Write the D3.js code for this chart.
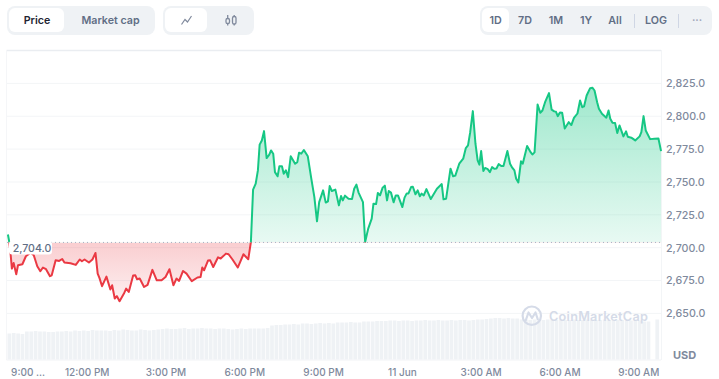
<!DOCTYPE html>
<html><head><meta charset="utf-8">
<style>
html,body{margin:0;padding:0;background:#fff;overflow:hidden}
svg{display:block;font-family:Inter,"Noto Sans",sans-serif}
</style>
<script src="https://cdn.jsdelivr.net/npm/d3@7/dist/d3.min.js"></script>
</head><body><svg id="c" width="719" height="379"></svg>
<script>
const minutes=[1,4,7,10,14,20,24,34,42,53,60,68,75,81,88,97,101,110,118,125,130,144,156,165,170,176,186,194,201,206,210,216,226,235,239,245,250,256,266,271,277,287,292,296,302,312,320,331,341,352,361,370,379,386,392,401,409,421,434,441,445,449,458,463,470,481,487,499,505,514,526,539,550,556,561,567,572,576,581,586,592,598,602,607,611,617,621,627,631,636,641,647,657,662,666,671,677,686,694,701,707,712,721,727,732,736,741,749,757,762,766,771,779,787,792,797,802,812,817,824,832,836,842,846,851,857,862,867,871,876,882,887,892,902,907,912,916,922,926,932,937,942,946,951,957,967,981,992,996,1002,1012,1018,1023,1032,1041,1047,1052,1057,1063,1069,1074,1078,1082,1087,1091,1097,1102,1107,1112,1117,1122,1128,1133,1142,1148,1153,1158,1162,1167,1173,1177,1187,1195,1199,1204,1211,1217,1222,1228,1237,1243,1249,1253,1257,1262,1267,1273,1282,1288,1294,1302,1308,1313,1317,1323,1331,1336,1341,1347,1351,1358,1368,1373,1377,1382,1388,1393,1398,1407,1413,1417,1425,1434,1444,1448,1453,1458,1468,1478,1487,1493];
const prices=[2710,2704.3,2695.5,2684.1,2688.4,2679.8,2686.6,2687.4,2693.5,2696.3,2694.2,2685.9,2682.1,2684.9,2683.6,2678.3,2679,2690.4,2689.9,2691.4,2688.7,2688.1,2686.9,2691,2689.7,2691,2688.7,2691,2696,2680.3,2677,2670.7,2678,2668.2,2671.4,2661.3,2663.1,2659.3,2665.1,2668.9,2666.3,2678.8,2679,2676,2676.5,2670.1,2671.7,2683.1,2675.2,2675.2,2677.7,2683.6,2671.4,2676.5,2674.7,2682.3,2680.3,2674.5,2677.3,2677.7,2684.9,2682.8,2690.2,2690.4,2685.3,2692.7,2691.7,2695.5,2695,2691,2684.9,2695,2691.2,2704.3,2744.2,2748.7,2758.8,2778.4,2781.6,2788.7,2768.2,2770.8,2774,2771.5,2757.5,2754.3,2761.9,2761.9,2756.3,2758.8,2753.7,2769.5,2763.9,2765.1,2772.3,2771.5,2774.3,2769.5,2752.5,2738.5,2720.1,2734.7,2743.6,2734.3,2735.3,2746.9,2743.1,2744.2,2732.2,2739.3,2736,2739.6,2737.3,2737,2744.9,2748,2741.9,2734.7,2704.3,2714.5,2722.1,2733.5,2733.2,2741.6,2739.8,2745.7,2747.2,2736,2743.1,2741.9,2734.5,2739.8,2739.8,2730.9,2738.1,2741.3,2741.3,2746.1,2746.4,2740.6,2743.6,2739.1,2741.1,2739.8,2744.6,2737,2744.9,2748.4,2736.8,2737.3,2760.1,2754.3,2754.8,2763.9,2767.7,2775.8,2777.8,2787.9,2803.9,2779.1,2766.4,2763.2,2773.5,2758.4,2760.7,2759.8,2757.5,2761.3,2760.1,2760.3,2763.6,2762.1,2762.1,2773.5,2763.9,2760.9,2758.8,2752.5,2749.7,2765.7,2763.9,2777.3,2772.7,2770.9,2772.5,2809,2802.7,2804.4,2810.7,2817.6,2805,2803.7,2803.4,2800.1,2802.9,2802.7,2790.7,2795.5,2793.3,2798.7,2802.1,2812,2806.9,2807.5,2815.8,2821.4,2821.7,2819.6,2810.7,2805.7,2801.9,2798.9,2804.4,2798.1,2795.1,2794.8,2787.2,2793,2784.7,2788.5,2784.4,2783.7,2781.6,2784.7,2787.9,2800.1,2789.2,2782.6,2782.9,2783.1,2773.5];
const volumes=[26,26.5,26,25.5,28,28,28.5,28,28,27.5,27.5,28,28,28.5,28,29,28.5,29,28.5,29.5,29,29,29,28.5,29.5,29,30,29.5,29,29,30,29.5,29,29.5,30,30.5,31,30.5,30.5,31,31.5,30.5,31,31,31.5,31,31,30.5,31,31,30.5,30,30.5,31,30.5,31,31,31,31,31.5,34,34.5,34.5,35,35,35.5,35,36,36,35.5,36,36.5,36,36.5,36,37,37,37,37.5,37,37,38,38,38,38.5,38.5,38.5,39,39,38.5,39,39,38.5,39,39,39.5,39,39,39.5,39,39,39.5,39,39.5,39.5,39,39.5,40,40,40.5,41,41.5,41.5,41,41.5,41,41,40,40,39.5,40,39.5,39.5,40,39.5,39.5,40,39.5,39.5,40,39.5,39.5,40,39.5,39.5,39.5,40,39.5,39.5,39.5,39.5,39,39,39,39,38,38,0,40];
const priceTicks=[2650,2675,2700,2725,2750,2775,2800,2825];
const timeTicks=[45,180,360,540,720,900,1080,1260,1440];
const timeLabels=["9:00 ...","12:00 PM","3:00 PM","6:00 PM","9:00 PM","11 Jun","3:00 AM","6:00 AM","9:00 AM"];
const baseline=2704;
const metricTabs=["Price","Market cap"];
const rangeTabs=["1D","7D","1M","1Y","All","LOG"];

const svg=d3.select("#c");
const L=7.5,R=661.5;
const x=d3.scaleLinear().domain([0,1494]).range([L,R]);
const y=d3.scaleLinear().domain([2650,2825]).range([313.4,83.4]);
const v=d3.scaleLinear().domain([0,40]).range([359.5,319.5]);
const by=y(baseline);

const defs=svg.append("defs");
const g1=defs.append("linearGradient").attr("id","gUp").attr("gradientUnits","userSpaceOnUse").attr("x1",0).attr("x2",0).attr("y1",y(2825)).attr("y2",by);
g1.append("stop").attr("offset",0).attr("stop-color","#16c784").attr("stop-opacity",.42);
g1.append("stop").attr("offset",1).attr("stop-color","#16c784").attr("stop-opacity",.1);
const g2=defs.append("linearGradient").attr("id","gDn").attr("gradientUnits","userSpaceOnUse").attr("x1",0).attr("x2",0).attr("y1",by).attr("y2",y(2655));
g2.append("stop").attr("offset",0).attr("stop-color","#ea3943").attr("stop-opacity",.25);
g2.append("stop").attr("offset",1).attr("stop-color","#ea3943").attr("stop-opacity",.06);
defs.append("clipPath").attr("id","above").append("rect").attr("x",0).attr("y",0).attr("width",719).attr("height",by);
defs.append("clipPath").attr("id","below").append("rect").attr("x",0).attr("y",by).attr("width",719).attr("height",379-by);

// toolbar
function group(gx,w){svg.append("rect").attr("x",gx).attr("y",6).attr("width",w).attr("height",29).attr("rx",8).attr("fill","#eff2f5");}
function pill(px,w){svg.append("rect").attr("x",px).attr("y",8).attr("width",w).attr("height",24).attr("rx",6).attr("fill","#fff");}
function tab(t,cx,c,wgt,fs){svg.append("text").attr("x",cx).attr("y",24).attr("text-anchor","middle").attr("font-size",fs).attr("font-weight",wgt).attr("fill",c).text(t);}
group(7,148);pill(9,55);
tab(metricTabs[0],37,"#222531",600,10.7);tab(metricTabs[1],110.5,"#616e85",600,10.7);
group(163,91);pill(165,42);
svg.append("path").attr("d","M181.5 24.5L185 19.5L187.5 22L191.5 16").attr("fill","none").attr("stroke","#808a9d").attr("stroke-width",1.2);
const ic=svg.append("g").attr("fill","none").attr("stroke","#808a9d").attr("stroke-width",1.3);
ic.append("rect").attr("x",226).attr("y",18.5).attr("width",3.5).attr("height",5).attr("rx",1.6);
ic.append("rect").attr("x",232.5).attr("y",16.5).attr("width",3.5).attr("height",7.5).attr("rx",1.6);
ic.append("path").attr("d","M227.7 15v3.5M227.7 23.5v2M234.2 15v1.5M234.2 24v1.5");
group(480,232);pill(482,27);
[495.5,525,556,586,615,656].forEach((cx,i)=>tab(rangeTabs[i],cx,"#616e85",600,10.7));
[634.5,678.5].forEach(sx=>svg.append("line").attr("x1",sx).attr("x2",sx).attr("y1",14).attr("y2",28).attr("stroke","#cfd6e4"));
tab("···",697,"#a1a7bb",600,10.7);

// frame
svg.append("line").attr("x1",6.5).attr("x2",661).attr("y1",50.5).attr("y2",50.5).attr("stroke","#eaedf1").attr("stroke-width",1.3);
svg.append("line").attr("x1",6.5).attr("x2",6.5).attr("y1",50).attr("y2",360).attr("stroke","#f5f6f8");
svg.append("line").attr("x1",661.5).attr("x2",661.5).attr("y1",50).attr("y2",360).attr("stroke","#f3f5f7");

// grid
svg.append("g").selectAll("line").data(priceTicks).join("line")
  .attr("x1",7).attr("x2",661).attr("y1",d=>y(d)).attr("y2",d=>y(d)).attr("stroke","#f3f5f7").attr("stroke-width",1);

// volume
svg.append("g").selectAll("rect").data(volumes).join("rect")
  .attr("x",(d,i)=>x(i*10)).attr("width",3.7)
  .attr("y",d=>v(d)).attr("height",d=>v(0)-v(d)).attr("fill","#eff2f5");
svg.append("line").attr("x1",6.5).attr("x2",661).attr("y1",360).attr("y2",360).attr("stroke","#f1f3f6");

// price
const pts=minutes.map((m,i)=>[m,prices[i]]);
const area=d3.area().x(d=>x(d[0])).y0(by).y1(d=>y(d[1]));
const line=d3.line().x(d=>x(d[0])).y(d=>y(d[1]));
svg.append("path").attr("d",area(pts)).attr("fill","url(#gUp)").attr("clip-path","url(#above)");
svg.append("path").attr("d",area(pts)).attr("fill","url(#gDn)").attr("clip-path","url(#below)");
svg.append("line").attr("x1",7).attr("x2",661).attr("y1",by).attr("y2",by).attr("stroke","#a6b0c3").attr("stroke-dasharray","1 3");
svg.append("path").attr("d",line(pts)).attr("fill","none").attr("stroke","#16c784").attr("stroke-width",2).attr("stroke-linejoin","round").attr("clip-path","url(#above)");
svg.append("path").attr("d",line(pts)).attr("fill","none").attr("stroke","#ea3943").attr("stroke-width",2).attr("stroke-linejoin","round").attr("clip-path","url(#below)");

// baseline label
svg.append("rect").attr("x",9).attr("y",241).attr("width",43).attr("height",13.5).attr("rx",3).attr("fill","#fff");
svg.append("text").attr("x",12.7).attr("y",249.5).attr("dominant-baseline","middle").attr("font-size",10.6).attr("font-weight",500).attr("fill","#616e85").text(d3.format(",.1f")(baseline));

// watermark
const wm=svg.append("g");
wm.append("circle").attr("cx",531.8).attr("cy",315.7).attr("r",9.2).attr("fill","none").attr("stroke","#d5dbe8").attr("stroke-width",2.2);
wm.append("path").attr("d","M525.5 321L528.5 312.5L532 318L535.5 312.5L538 320").attr("fill","none").attr("stroke","#d5dbe8").attr("stroke-width",2.2).attr("stroke-linejoin","round");
wm.append("text").attr("x",549).attr("y",321).attr("font-size",12.7).attr("font-weight",600).attr("letter-spacing",.25).attr("fill","#d5dbe8").text("CoinMarketCap");

// axes
const ya=d3.axisRight(y).tickValues(priceTicks).tickSize(0).tickPadding(0).tickFormat(d3.format(",.1f"));
const yg=svg.append("g").attr("transform","translate(666,0)").call(ya);
const xa=d3.axisBottom(x).tickValues(timeTicks).tickSize(0).tickPadding(0).tickFormat((d,i)=>timeLabels[i]);
const xg=svg.append("g").attr("transform","translate(0.4,369)").call(xa);
yg.call(g=>g.select(".domain").remove());
xg.call(g=>g.select(".domain").remove());
yg.selectAll("text").attr("font-family","Inter,sans-serif").attr("font-size",10.7).attr("font-weight",500).attr("fill","#808a9d");
xg.selectAll("text").attr("font-family","Inter,sans-serif").attr("font-size",10).attr("font-weight",500).attr("fill","#808a9d");
svg.append("text").attr("x",684.5).attr("y",359).attr("text-anchor","middle").attr("font-size",11).attr("font-weight",700).attr("fill","#808a9d").text("USD");
</script></body></html>
